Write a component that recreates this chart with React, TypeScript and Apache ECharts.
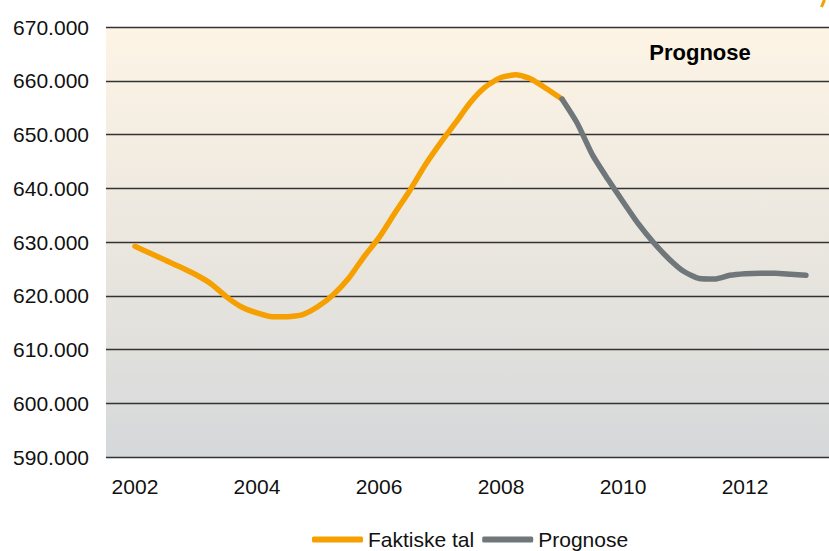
import React, { useEffect, useRef } from "react";
import * as echarts from "echarts";

const actualX = [
  2002, 2002.25, 2002.5, 2002.75, 2003, 2003.25, 2003.5, 2003.75,
  2004, 2004.25, 2004.5, 2004.75, 2005, 2005.25, 2005.5, 2005.75,
  2006, 2006.25, 2006.5, 2006.75, 2007, 2007.25, 2007.5, 2007.75,
  2008, 2008.25, 2008.5, 2008.75, 2009,
];
const actualValues = [
  629200, 627900, 626600, 625300, 623900, 622200, 619800, 617900,
  616800, 616100, 616100, 616500, 618000, 620200, 623200, 627200,
  630800, 635200, 639500, 644200, 648300, 652100, 656000, 658900,
  660600, 661100, 660300, 658500, 656600,
];
const forecastX = [
  2009, 2009.25, 2009.5, 2009.75, 2010, 2010.25, 2010.5, 2010.75,
  2011, 2011.25, 2011.5, 2011.75, 2012, 2012.25, 2012.5, 2012.75, 2013,
];
const forecastValues = [
  656600, 652100, 646200, 641700, 637500, 633400, 629900, 626900,
  624500, 623200, 623100, 623800, 624100, 624200, 624200, 624000, 623800,
];
const xTickLabels = [2002, 2004, 2006, 2008, 2010, 2012];
const seriesNames = ["Faktiske tal", "Prognose"];
const annotationText = "Prognose";

const FONT = "Liberation Sans, Arial, sans-serif";

function fmtThousands(v: number): string {
  const k = Math.round(v / 1000);
  const r = Math.round(v - k * 1000);
  return k + "." + String(Math.abs(r)).padStart(3, "0");
}

export default function App() {
  const ref = useRef<HTMLDivElement>(null);
  useEffect(() => {
    document.body.style.margin = "0";
    const chart = echarts.init(ref.current!, null, { renderer: "svg" });
    chart.setOption({
      animation: false,
      backgroundColor: "#ffffff",
      grid: {
        left: 106,
        right: 0,
        top: 27,
        bottom: 94,
        show: true,
        borderWidth: 0,
        backgroundColor: new echarts.graphic.LinearGradient(0, 0, 0, 1, [
          { offset: 0, color: "#fdf4e5" },
          { offset: 0.5, color: "#ebe7df" },
          { offset: 1, color: "#d5d8da" },
        ]),
      },
      legend: {
        left: 312,
        top: 529,
        padding: 0,
        itemWidth: 51,
        itemHeight: 6,
        itemGap: 8,
        icon: "roundRect",
        textStyle: { fontFamily: FONT, fontSize: 21, lineHeight: 20, color: "#111" },
        data: seriesNames,
      },
      xAxis: {
        type: "value",
        min: 2001.525,
        max: 2013.377,
        axisLine: { show: false },
        axisTick: { show: false },
        splitLine: { show: false },
        axisLabel: {
          customValues: xTickLabels,
          margin: 19,
          fontFamily: FONT,
          fontSize: 21,
          color: "#111",
          formatter: (v: number) => String(v),
        },
      },
      yAxis: {
        type: "value",
        min: 590000,
        max: 670000,
        interval: 10000,
        axisLine: { show: false },
        axisTick: { show: false },
        splitLine: { show: true, lineStyle: { color: "#333333", width: 1.3 } },
        axisLabel: {
          margin: 17,
          fontFamily: FONT,
          fontSize: 21,
          color: "#111",
          formatter: (v: number) => fmtThousands(v),
        },
      },
      series: [
        {
          name: seriesNames[0],
          type: "line",
          data: actualX.map((x, i) => [x, actualValues[i]]),
          showSymbol: false,
          symbol: "none",
          smooth: 0.2,
          itemStyle: { color: "#f5a000" },
          lineStyle: { color: "#f5a000", width: 5.5, cap: "round", join: "round" },
          z: 3,
        },
        {
          name: seriesNames[1],
          type: "line",
          data: forecastX.map((x, i) => [x, forecastValues[i]]),
          showSymbol: false,
          symbol: "none",
          smooth: 0.2,
          itemStyle: { color: "#6f777b" },
          lineStyle: { color: "#6f777b", width: 5.5, cap: "round", join: "round" },
          z: 4,
        },
      ],
      graphic: [
        {
          type: "text",
          x: 700,
          y: 52,
          style: {
            text: annotationText,
            fontFamily: FONT,
            fontSize: 22,
            fontWeight: "bold",
            fill: "#000",
            align: "center",
            verticalAlign: "middle",
          },
          z: 10,
        },
        {
          type: "line",
          shape: { x1: 824.5, y1: 0, x2: 821.5, y2: 7 },
          style: { stroke: "#f5a000", lineWidth: 3 },
        },
      ],
    });
    return () => chart.dispose();
  }, []);
  return (
    <div
      ref={ref}
      style={{ position: "absolute", left: 0, top: 0, width: 829, height: 551 }}
    />
  );
}
